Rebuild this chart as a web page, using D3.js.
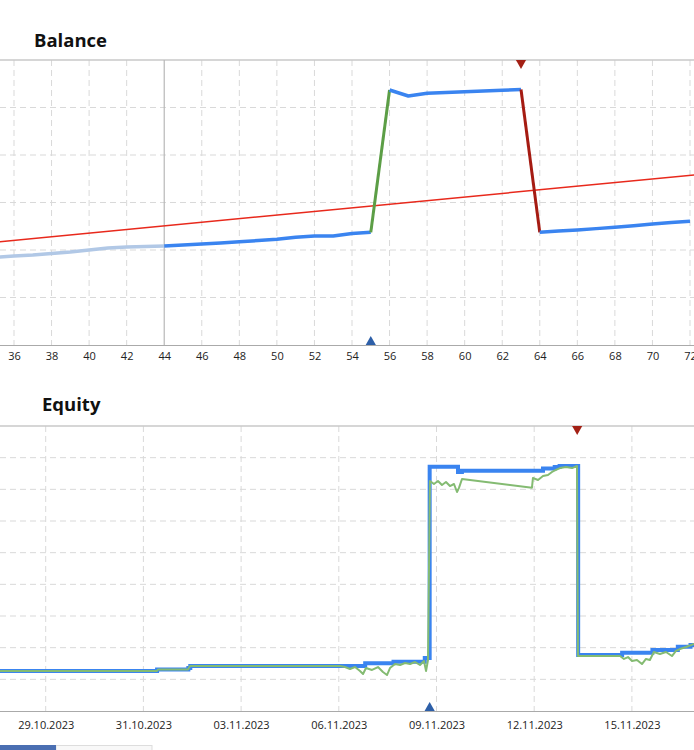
<!DOCTYPE html>
<html>
<head>
<meta charset="utf-8">
<script src="https://cdn.jsdelivr.net/npm/d3@7"></script>
<style>
  body { margin: 0; background: #fff; }
  svg { display: block; font-family: "Open Sans", sans-serif; }
  .title { font-size: 18.5px; font-weight: bold; fill: #111; }
  .tick-label { font-size: 11px; fill: #222; }
</style>
</head>
<body>
<div id="chart"></div>
<script>
// Balance chart: trade number -> balance
const trades = d3.range(35, 73);
const balance = [
  10422, 10437, 10447, 10463, 10479, 10500, 10521, 10532, 10537, 10542,
  10553, 10563, 10574, 10587, 10600, 10613, 10634, 10647, 10647, 10674,
  10686, 12184, 12121, 12149, 12158, 12166, 12174, 12181, 12189, 10686,
  10700, 10711, 10725, 10739, 10755, 10774, 10790, 10802
];
const cursorTrade = 44;      // everything before is drawn faded
const winTrade = 56;         // segment 55 -> 56 drawn green
const lossTrade = 64;        // segment 63 -> 64 drawn dark red
const trendLine = [[35, 10582], [73, 11305]];
const balanceTicks = d3.range(36, 73, 2);
const balanceGrid = d3.range(9500, 12501, 500);

// Equity chart: position in date-tick units -> value
const dateLabels = ["29.10.2023", "31.10.2023", "03.11.2023", "06.11.2023",
                    "09.11.2023", "12.11.2023", "15.11.2023"];
const eqBalance = [
  [-0.5, 10566], [1.14, 10578], [1.46, 10590], [1.48, 10605], [3.27, 10627],
  [3.56, 10639], [3.88, 10668], [3.93, 12179], [4.22, 12137], [4.26, 12147],
  [5.09, 12164], [5.21, 12176], [5.26, 12184], [5.45, 10692], [5.90, 10710],
  [6.21, 10731], [6.47, 10758], [6.60, 10771], [6.80, 10771]
];
const eqEquity = [
  [-0.5, 10566], [1.139, 10566], [1.149, 10578], [1.456, 10578], [1.477, 10605],
  [3.012, 10605], [3.063, 10597], [3.115, 10582], [3.166, 10597], [3.217, 10566],
  [3.248, 10542], [3.278, 10589], [3.340, 10574], [3.401, 10597], [3.452, 10558],
  [3.493, 10534], [3.524, 10589], [3.575, 10621], [3.627, 10613], [3.678, 10629],
  [3.729, 10621], [3.780, 10637], [3.831, 10613], [3.872, 10645], [3.893, 10566],
  [3.913, 10653], [3.933, 12066], [3.974, 12042], [4.015, 12066], [4.056, 12034],
  [4.097, 12058], [4.138, 12026], [4.179, 12042], [4.210, 11979], [4.230, 12011],
  [4.261, 12082], [4.977, 12013], [4.987, 12089], [5.039, 12074], [5.090, 12105],
  [5.141, 12113], [5.182, 12137], [5.223, 12153], [5.264, 12168], [5.325, 12176],
  [5.387, 12168], [5.438, 12184], [5.448, 10684], [5.673, 10684], [5.878, 10684],
  [5.919, 10661], [5.960, 10676], [6.001, 10645], [6.052, 10653], [6.103, 10621],
  [6.144, 10661], [6.184, 10653], [6.225, 10716], [6.287, 10700], [6.349, 10716],
  [6.410, 10684], [6.451, 10724], [6.492, 10739], [6.554, 10755], [6.636, 10779],
  [6.700, 10795]
];
const eqGrid = d3.range(10250, 12501, 250);
const eqDeal = 3.93;     // buy marker
const eqClose = 5.44;    // sell marker

const W = 694, H = 750;
const svg = d3.select("#chart").append("svg")
    .attr("width", W)
    .attr("height", H);

const gridColor = "#d9d9d9";

// ---------- Balance ----------
const x1 = d3.scaleLinear().domain([36, 72]).range([14, 690]);
const y1 = d3.scaleLinear().domain([9500, 12500]).range([345, 60]);

svg.append("text").attr("class", "title").attr("x", 34).attr("y", 47).text("Balance");

svg.append("defs").append("clipPath").attr("id", "clip1")
  .append("rect").attr("x", 0).attr("y", 60).attr("width", W).attr("height", 285);
svg.select("defs").append("clipPath").attr("id", "clip2")
  .append("rect").attr("x", 0).attr("y", 426).attr("width", W).attr("height", 285);

const g1 = svg.append("g");

g1.selectAll(".hgrid")
  .data(balanceGrid.filter(v => v > 9500 && v < 12500))
  .join("line")
  .attr("x1", 0).attr("x2", W)
  .attr("y1", d => y1(d)).attr("y2", d => y1(d))
  .attr("stroke", gridColor).attr("stroke-dasharray", "6,4");

g1.selectAll(".vgrid")
  .data(balanceTicks.filter(t => t !== cursorTrade))
  .join("line")
  .attr("x1", d => x1(d)).attr("x2", d => x1(d))
  .attr("y1", y1(12500)).attr("y2", y1(9500) + 3)
  .attr("stroke", gridColor).attr("stroke-dasharray", "6,4");

// top border and axis line
g1.append("line").attr("x1", 0).attr("x2", W)
  .attr("y1", y1(12500)).attr("y2", y1(12500))
  .attr("stroke", "#c8c8c8").attr("stroke-width", 1.5);
g1.append("line").attr("x1", 0).attr("x2", W)
  .attr("y1", y1(9500) + 0.5).attr("y2", y1(9500) + 0.5)
  .attr("stroke", "#aaaaaa");

// cursor line
g1.append("line")
  .attr("x1", x1(cursorTrade)).attr("x2", x1(cursorTrade))
  .attr("y1", y1(12500)).attr("y2", y1(9500))
  .attr("stroke", "#b8b8b8").attr("stroke-width", 1.2);

const xAxis1 = d3.axisBottom(x1).tickValues(balanceTicks).tickSize(0).tickPadding(6);
g1.append("g")
  .attr("transform", `translate(0,${y1(9500) + 1})`)
  .call(xAxis1)
  .call(a => a.select(".domain").remove())
  .selectAll("text").attr("class", "tick-label")
  .attr("font-family", "Open Sans");

// trend
const plot1 = g1.append("g").attr("clip-path", "url(#clip1)");
plot1.append("path")
  .datum(trendLine)
  .attr("fill", "none")
  .attr("stroke", "#e8291c")
  .attr("stroke-width", 1.5)
  .attr("d", d3.line().x(d => x1(d[0])).y(d => y1(d[1])));

// balance segments coloured by state
function segColor(t) {
  if (t <= cursorTrade) return "#b1c8e6";
  if (t === winTrade) return "#5c9e46";
  if (t === lossTrade) return "#a51b12";
  return "#3a84f0";
}
const pts = trades.map((t, i) => ({ t, v: balance[i] }));
const runs = [];
for (let i = 1; i < pts.length; i++) {
  const c = segColor(pts[i].t);
  const last = runs[runs.length - 1];
  if (last && last.color === c) last.points.push(pts[i]);
  else runs.push({ color: c, points: [pts[i - 1], pts[i]] });
}
const bLine = d3.line().x(d => x1(d.t)).y(d => y1(d.v));
plot1.selectAll(".bal")
  .data(runs)
  .join("path")
  .attr("fill", "none")
  .attr("stroke", d => d.color)
  .attr("stroke-width", d => d.color === "#3a84f0" || d.color === "#b1c8e6" ? 3.5 : 3)
  .attr("stroke-linejoin", "round")
  .attr("d", d => bLine(d.points));

// markers
const tri = d3.symbol().type(d3.symbolTriangle).size(45);
g1.append("path").attr("d", tri)
  .attr("transform", `translate(${x1(winTrade - 1)},${y1(9500) - 3})`)
  .attr("fill", "#2d5fa8");
g1.append("path").attr("d", tri)
  .attr("transform", `translate(${x1(lossTrade - 1)},${y1(12500) + 3}) rotate(180)`)
  .attr("fill", "#a32015");

// ---------- Equity ----------
const x2 = d3.scaleLinear().domain([0, 6]).range([45.7, 631.9]);
const y2 = d3.scaleLinear().domain([10250, 12500]).range([711, 426]);

svg.append("text").attr("class", "title").attr("x", 42).attr("y", 411).text("Equity");

const g2 = svg.append("g");
g2.selectAll(".hgrid2")
  .data(eqGrid.filter(v => v > 10250 && v < 12500))
  .join("line")
  .attr("x1", 0).attr("x2", W)
  .attr("y1", d => y2(d)).attr("y2", d => y2(d))
  .attr("stroke", gridColor).attr("stroke-dasharray", "6,4");
g2.selectAll(".vgrid2")
  .data(d3.range(dateLabels.length))
  .join("line")
  .attr("x1", d => x2(d)).attr("x2", d => x2(d))
  .attr("y1", y2(12500)).attr("y2", y2(10250))
  .attr("stroke", gridColor).attr("stroke-dasharray", "6,4");

g2.append("line").attr("x1", 0).attr("x2", W)
  .attr("y1", y2(12500)).attr("y2", y2(12500))
  .attr("stroke", "#c8c8c8").attr("stroke-width", 1.5);
g2.append("line").attr("x1", 0).attr("x2", W)
  .attr("y1", y2(10250) + 0.5).attr("y2", y2(10250) + 0.5)
  .attr("stroke", "#aaaaaa");

const xAxis2 = d3.axisBottom(x2)
  .tickValues(d3.range(dateLabels.length))
  .tickFormat(i => dateLabels[i])
  .tickSize(0).tickPadding(9);
g2.append("g")
  .attr("transform", `translate(0,${y2(10250) + 1})`)
  .call(xAxis2)
  .call(a => a.select(".domain").remove())
  .selectAll("text").attr("class", "tick-label")
  .attr("font-family", "Open Sans");

const plot2 = g2.append("g").attr("clip-path", "url(#clip2)");
plot2.append("path")
  .datum(eqBalance)
  .attr("fill", "none")
  .attr("stroke", "#3a84f0")
  .attr("stroke-width", 4)
  .attr("d", d3.line().curve(d3.curveStepAfter).x(d => x2(d[0])).y(d => y2(d[1])));
plot2.append("path")
  .datum(eqEquity)
  .attr("fill", "none")
  .attr("stroke", "#84bb72")
  .attr("stroke-width", 2)
  .attr("stroke-linejoin", "round")
  .attr("d", d3.line().x(d => x2(d[0])).y(d => y2(d[1])));

g2.append("path").attr("d", tri)
  .attr("transform", `translate(${x2(eqDeal)},${y2(10250) - 3})`)
  .attr("fill", "#2d5fa8");
g2.append("path").attr("d", tri)
  .attr("transform", `translate(${x2(eqClose)},${y2(12500) + 3}) rotate(180)`)
  .attr("fill", "#a32015");

// scroll tab at the bottom
svg.append("rect").attr("x", 56).attr("y", 745.5).attr("width", 96).attr("height", 6)
  .attr("fill", "#f8f8f8").attr("stroke", "#dddddd");
svg.append("rect").attr("x", 0).attr("y", 745).attr("width", 56).attr("height", 5)
  .attr("fill", "#4a6fb2");
</script>
</body>
</html>
